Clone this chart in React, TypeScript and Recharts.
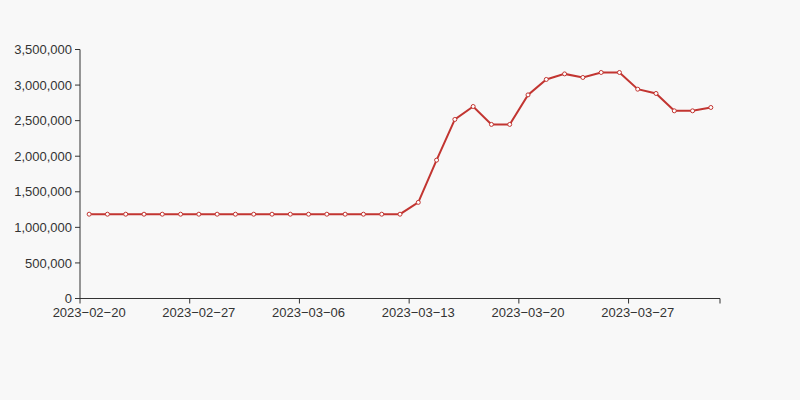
import { LineChart, Line, XAxis, YAxis } from "recharts"

const DATES = [
  "2023-02-20", "2023-02-21", "2023-02-22", "2023-02-23", "2023-02-24", "2023-02-25",
  "2023-02-27", "2023-02-28", "2023-03-01", "2023-03-02", "2023-03-03", "2023-03-04",
  "2023-03-06", "2023-03-07", "2023-03-08", "2023-03-09", "2023-03-10", "2023-03-11",
  "2023-03-13", "2023-03-14", "2023-03-15", "2023-03-16", "2023-03-17", "2023-03-18",
  "2023-03-20", "2023-03-21", "2023-03-22", "2023-03-23", "2023-03-24", "2023-03-25",
  "2023-03-27", "2023-03-28", "2023-03-29", "2023-03-30", "2023-03-31",
]

const VALUES = [
  1185000, 1185000, 1185000, 1185000, 1185000, 1185000,
  1185000, 1185000, 1185000, 1185000, 1185000, 1185000,
  1185000, 1185000, 1185000, 1185000, 1185000, 1185000,
  1351000, 1945000, 2517000, 2699000, 2447000, 2447000,
  2862000, 3079000, 3157000, 3107000, 3177000, 3177000,
  2942000, 2882000, 2638000, 2638000, 2685000,
]

const Y_TICKS = [0, 500000, 1000000, 1500000, 2000000, 2500000, 3000000, 3500000]

const data = DATES.map((date, i) => ({ date, value: VALUES[i] }))

const PLOT_W = 640
const STEP = PLOT_W / DATES.length
const LABEL_EVERY = 6
const AXIS_COLOR = "#333"
const FONT = "'Liberation Sans', Arial, sans-serif"
const FONT_SIZE = 13

const fmt = (v: number) => v.toLocaleString("en-US")

function DateTick(props: any) {
  const { x, y, payload } = props
  const i = payload.index
  const isLast = i === DATES.length - 1
  if (i % LABEL_EVERY !== 0 && !isLast) return null
  const axisY = y - 5
  return (
    <g>
      {i % LABEL_EVERY === 0 && (
        <>
          <line x1={x - STEP / 2} x2={x - STEP / 2} y1={axisY} y2={axisY + 5} stroke={AXIS_COLOR} />
          <text
            x={x}
            y={axisY + 8}
            dy="0.8em"
            textAnchor="middle"
            fill={AXIS_COLOR}
            fontSize={FONT_SIZE}
            fontFamily={FONT}
          >
            {payload.value.replace(/-/g, "\u2212")}
          </text>
        </>
      )}
      {isLast && (
        <line x1={x + STEP / 2} x2={x + STEP / 2} y1={axisY} y2={axisY + 5} stroke={AXIS_COLOR} />
      )}
    </g>
  )
}

export default function App() {
  return (
    <div style={{ position: "absolute", left: 0, top: 0, width: 800, height: 400, background: "#f8f8f8" }}>
      <LineChart
        width={800}
        height={400}
        data={data}
        margin={{ top: 49.5, right: 80, bottom: 71.5, left: 0 }}
      >
        <XAxis
          dataKey="date"
          interval={0}
          height={30}
          padding={{ left: STEP / 2, right: STEP / 2 }}
          axisLine={{ stroke: AXIS_COLOR }}
          tickLine={false}
          tickSize={5}
          tickMargin={0}
          tick={<DateTick />}
        />
        <YAxis
          width={80}
          domain={[0, 3500000]}
          ticks={Y_TICKS}
          interval={0}
          tickFormatter={fmt}
          axisLine={{ stroke: AXIS_COLOR }}
          tickLine={{ stroke: AXIS_COLOR }}
          tickSize={5}
          tickMargin={3}
          tick={{ fill: AXIS_COLOR, fontSize: FONT_SIZE, fontFamily: FONT }}
        />
        <Line
          type="linear"
          dataKey="value"
          stroke="#c23531"
          strokeWidth={2}
          dot={{ r: 2, fill: "#fff", stroke: "#c23531", strokeWidth: 1 }}
          activeDot={false}
          isAnimationActive={false}
        />
      </LineChart>
    </div>
  )
}
